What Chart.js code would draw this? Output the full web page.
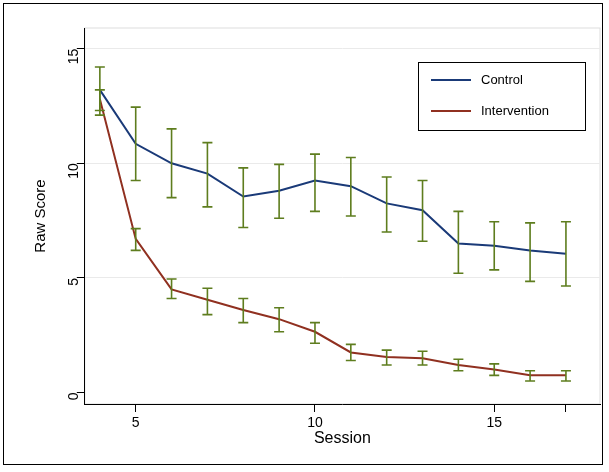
<!DOCTYPE html>
<html><head><meta charset="utf-8">
<script src="https://cdn.jsdelivr.net/npm/chart.js@4"></script>
<style>
html,body{margin:0;padding:0;background:#fff}
#wrap{position:absolute;left:3px;top:3px;width:600px;height:462px;border:1px solid #000;box-sizing:border-box}
canvas{display:block}
</style></head><body>
<div id="wrap"><canvas id="c" width="598" height="460"></canvas></div>
<script>
const sessions=[4,5,6,7,8,9,10,11,12,13,14,15,16,17];
const control=[13.2,10.85,10.0,9.55,8.55,8.8,9.25,9.0,8.25,7.95,6.5,6.4,6.2,6.05];
const controlHi=[14.2,12.45,11.5,10.9,9.8,9.95,10.4,10.25,9.4,9.25,7.9,7.45,7.4,7.45];
const controlLo=[12.1,9.25,8.5,8.1,7.2,7.6,7.9,7.7,7.0,6.6,5.2,5.35,4.85,4.65];
const interv=[12.8,6.7,4.5,4.05,3.6,3.2,2.65,1.75,1.55,1.5,1.2,1.0,0.75,0.75];
const intervHi=[13.2,7.15,4.95,4.55,4.1,3.7,3.05,2.1,1.85,1.8,1.45,1.25,0.95,0.95];
const intervLo=[12.3,6.2,4.1,3.4,3.05,2.65,2.15,1.4,1.2,1.2,0.95,0.75,0.5,0.5];
const xTicks=[5,10,15,17];
const yTicks=[0,5,10,15];
const errColor='#5e7d1e';
const errPlugin={id:'err',afterDatasetsDraw(ch){
  const {ctx,scales:{x,y}}=ch;ctx.save();ctx.strokeStyle=errColor;ctx.lineWidth=1.6;
  [[controlHi,controlLo],[intervHi,intervLo]].forEach(([hi,lo])=>{
    sessions.forEach((s,i)=>{const px=x.getPixelForValue(s),a=y.getPixelForValue(hi[i]),b=y.getPixelForValue(lo[i]);
      ctx.beginPath();ctx.moveTo(px,a);ctx.lineTo(px,b);ctx.moveTo(px-5,a);ctx.lineTo(px+5,a);ctx.moveTo(px-5,b);ctx.lineTo(px+5,b);ctx.stroke();});
  });ctx.restore();}};
const boxPlugin={id:'box',beforeDraw(ch){const {ctx,chartArea:a}=ch;ctx.save();ctx.strokeStyle='#ddd';ctx.lineWidth=1;ctx.strokeRect(a.left,a.top,a.right-a.left,a.bottom-a.top);ctx.restore();}};
new Chart(document.getElementById('c'),{type:'line',
 data:{datasets:[
  {label:'Control',data:sessions.map((s,i)=>({x:s,y:control[i]})),borderColor:'#1a3a78',backgroundColor:'#1a3a78',borderWidth:2,pointRadius:0,tension:0},
  {label:'Intervention',data:sessions.map((s,i)=>({x:s,y:interv[i]})),borderColor:'#903020',backgroundColor:'#903020',borderWidth:2,pointRadius:0,tension:0}]},
 options:{responsive:false,animation:false,
  layout:{padding:{left:24,right:2,top:24,bottom:12}},
  plugins:{legend:{display:false},tooltip:{enabled:false}},
  scales:{
   x:{type:'linear',min:3.58,max:17.95,afterBuildTicks(ax){ax.ticks=xTicks.map(v=>({value:v}));},
     ticks:{callback:v=>v===17?'':v,color:'#000',font:{family:'Liberation Sans',size:14},maxRotation:0},
     grid:{drawOnChartArea:false,color:'#000',tickLength:8},border:{color:'#000'},
     title:{display:true,text:'Session',color:'#000',font:{family:'Liberation Sans',size:16},padding:{top:-6}}},
   y:{min:-0.5,max:15.9,afterBuildTicks(ax){ax.ticks=yTicks.map(v=>({value:v}));},
     ticks:{color:'#000',font:{family:'Liberation Sans',size:14},maxRotation:90,minRotation:90},
     grid:{color:ctx=>ctx.tick&&ctx.tick.value===0?'rgba(0,0,0,0)':'#eaeaea',tickColor:'#000',tickLength:8},border:{color:'#000'},
     title:{display:true,text:'Raw Score',color:'#000',font:{family:'Liberation Sans',size:15}}}}},
 plugins:[boxPlugin,errPlugin,{id:'leg',afterDraw(ch){const c=ch.ctx;c.save();c.fillStyle='#fff';c.fillRect(414,58,167,68);c.strokeStyle='#000';c.lineWidth=1;c.strokeRect(414.5,58.5,167,68);
   c.font='13px "Liberation Sans"';c.fillStyle='#000';c.textBaseline='middle';
   [['Control','#1a3a78',79],['Intervention','#903020',110]].forEach(([t,col,yy])=>{c.strokeStyle=col;c.lineWidth=2;c.beginPath();c.moveTo(427,yy-3);c.lineTo(467,yy-3);c.stroke();c.fillText(t,477,yy-3);});c.restore();}}]
});
</script></body></html>
